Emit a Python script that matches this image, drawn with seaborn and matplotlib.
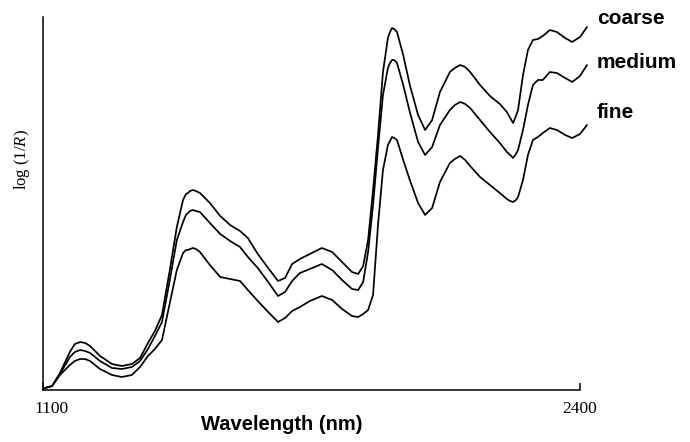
import matplotlib
matplotlib.use("Agg")
import matplotlib.pyplot as plt
import matplotlib.transforms as mtransforms
import seaborn as sns
import pandas as pd

# wavelength (nm)
wavelength = [1105, 1122, 1141, 1165, 1177, 1190, 1202, 1214, 1238, 1267, 1291, 1315, 1335, 1354,
              1371, 1388, 1407, 1424, 1439, 1446, 1451, 1456, 1463, 1470, 1480, 1504, 1529, 1553,
              1577, 1596, 1620, 1645, 1669, 1686, 1703, 1722, 1746, 1775, 1800, 1824, 1848, 1863,
              1875, 1887, 1899, 1911, 1923, 1935, 1940, 1945, 1950, 1957, 1972, 1988, 2008, 2025,
              2042, 2061, 2085, 2097, 2110, 2122, 2134, 2158, 2182, 2206, 2223, 2231, 2238, 2245,
              2250, 2262, 2274, 2286, 2298, 2310, 2327, 2344, 2364, 2381, 2400, 2417]

# log(1/R), arbitrary units
coarse = [2, 4, 17, 38, 46, 48, 47, 44, 34, 26, 24, 26, 32, 47,
          59, 75, 120, 163, 190, 196, 197, 199, 200, 199, 197, 187, 174, 165,
          159, 152, 136, 122, 109, 112, 126, 131, 136, 142, 138, 128, 118, 116,
          124, 150, 200, 255, 318, 352, 358, 362, 361, 358, 335, 305, 275, 260,
          270, 298, 318, 322, 325, 323, 318, 305, 294, 286, 278, 272, 267, 274,
          280, 315, 340, 350, 351, 354, 360, 358, 352, 348, 353, 363]
medium = [2, 4, 16, 33, 38, 40, 39, 37, 29, 22, 21, 23, 29, 41,
          54, 68, 110, 150, 168, 175, 177, 179, 180, 179, 178, 167, 156, 149,
          143, 133, 122, 108, 94, 98, 109, 117, 121, 126, 120, 110, 101, 100,
          108, 138, 185, 242, 295, 322, 327, 330, 330, 327, 305, 278, 248, 235,
          243, 265, 280, 285, 288, 286, 282, 270, 258, 247, 238, 235, 232, 236,
          240, 260, 285, 305, 310, 310, 318, 317, 312, 308, 314, 325]
fine = [2, 4, 15, 25, 29, 31, 31, 29, 21, 15, 13, 15, 23, 34,
        41, 50, 87, 120, 137, 140, 140, 141, 142, 141, 138, 125, 113, 111,
        109, 100, 89, 78, 68, 72, 79, 83, 89, 94, 90, 81, 74, 73,
        76, 80, 95, 165, 220, 245, 249, 253, 252, 250, 230, 210, 187, 175,
        182, 208, 227, 231, 234, 230, 224, 213, 205, 197, 191, 189, 188, 190,
        193, 210, 235, 250, 253, 257, 262, 260, 255, 252, 256, 265]

series_names = ["coarse", "medium", "fine"]
x_ticks = [1100, 2400]
x_tick_labels = ["1100", "2400"]

df = pd.concat([
    pd.DataFrame({"wavelength": wavelength, "value": vals, "size": name})
    for name, vals in zip(series_names, [coarse, medium, fine])
])

sns.set_style("white")
plt.rcParams["text.color"] = "black"
plt.rcParams["axes.labelcolor"] = "black"
plt.rcParams["xtick.color"] = "black"
plt.rcParams["mathtext.fontset"] = "custom"
plt.rcParams["mathtext.rm"] = "Liberation Serif"
plt.rcParams["mathtext.it"] = "Liberation Serif:italic"

fig = plt.figure(figsize=(6.9, 4.42), dpi=100)
ax = fig.add_axes([43 / 690, 52 / 442, 537 / 690, 373 / 442])

sns.lineplot(data=df, x="wavelength", y="value", hue="size", units="size",
             estimator=None, palette=["black"] * 3, legend=False, ax=ax,
             linewidth=1.25, sort=False)
for ln in ax.lines:
    ln.set_clip_on(False)
    ln.set_solid_joinstyle("round")
    ln.set_solid_capstyle("round")

ax.set_xlim(1100, 2400)
ax.set_ylim(0, 373)
ax.spines["top"].set_visible(False)
ax.spines["right"].set_visible(False)
ax.spines["bottom"].set_bounds(1100, 2400)
for sp in ("left", "bottom"):
    ax.spines[sp].set_color("black")
    ax.spines[sp].set_linewidth(1.1)

ax.set_yticks([])
ax.set_xticks(x_ticks)
ax.set_xticklabels(x_tick_labels, fontfamily="Liberation Serif", fontsize=12.5, color="black")
ax.tick_params(axis="x", direction="in", length=5, width=1.1, pad=8, bottom=True, colors="black")
off = mtransforms.ScaledTranslation(9 / 100, 0, fig.dpi_scale_trans)
lab0 = ax.get_xticklabels()[0]
lab0.set_transform(lab0.get_transform() + off)

ax.set_xlabel("Wavelength (nm)", fontfamily="Liberation Sans", fontweight="bold",
              fontsize=14.5, color="black")
ax.xaxis.set_label_coords((282 - 43) / 537, (390 - 425) / 373)
ax.xaxis.label.set_va("center")

ax.set_ylabel("log (1/$R$)", fontfamily="Liberation Serif", fontsize=12, color="black")
ax.yaxis.set_label_coords((22 - 43) / 537, (390 - 160) / 373)
ax.yaxis.label.set_va("center")

label_y = {"coarse": 18, "medium": 63, "fine": 112}
for name in series_names:
    fig.text(597 / 690, 1 - label_y[name] / 442, name, fontfamily="Liberation Sans",
             fontweight="bold", fontsize=15, va="center", ha="left", color="black")

fig.savefig("out.png", dpi=100)
